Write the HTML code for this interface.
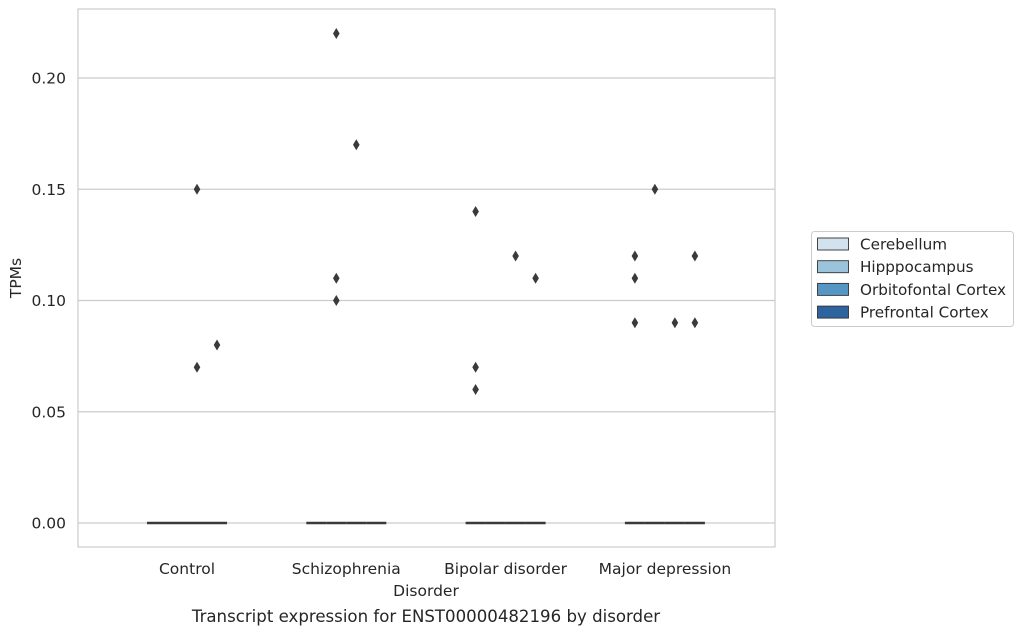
<!DOCTYPE html>
<html><head><meta charset="utf-8"><style>
body{margin:0;background:#fff;font-family:"Liberation Sans","DejaVu Sans",sans-serif}
</style></head><body>
<svg id="chart" width="1023" height="634" xmlns="http://www.w3.org/2000/svg" font-family="DejaVu Sans, Liberation Sans, sans-serif" fill="#262626">
<rect x="78" y="9" width="697" height="538" fill="#fff" stroke="#ccc" stroke-width="1.2"/>
<g id="grid"></g><g id="yticks"></g><g id="xticks"></g><g id="boxes"></g><g id="points"></g>
<text x="21" y="278" font-size="15.5" text-anchor="middle" transform="rotate(-90 21 278)">TPMs</text>
<text x="426" y="596" font-size="15.5" text-anchor="middle">Disorder</text>
<text x="426" y="622" font-size="16.6" text-anchor="middle">Transcript expression for ENST00000482196 by disorder</text>
<g>
<rect x="811.5" y="231.5" width="202" height="95" rx="3" fill="#fff" stroke="#ccc"/>
<g id="legend-items"></g>
</g>
</svg>
<script>
const categories=["Control","Schizophrenia","Bipolar disorder","Major depression"];
const hues=["Cerebellum","Hipppocampus","Orbitofontal Cortex","Prefrontal Cortex"];
const colors=["#d3e2ef","#9cc3dc","#5596c5","#2d64a0"];
const yTicks=[0,0.05,0.10,0.15,0.20];
const yTickLabels=["0.00","0.05","0.10","0.15","0.20"];
const outCat=[0,0,0,1,1,1,1,2,2,2,2,2,3,3,3,3,3,3,3];
const outHue=[2,2,3,1,1,1,2,0,0,0,2,3,0,0,0,1,2,3,3];
const outVal=[0.15,0.07,0.08,0.22,0.11,0.10,0.17,0.14,0.07,0.06,0.12,0.11,0.12,0.11,0.09,0.15,0.09,0.12,0.09];
const boxMedian=[0,0,0,0];
const NS="http://www.w3.org/2000/svg";
function y(v){return 523-v*(445/0.20);}
function xc(i){return 187+159.3*i;}
function xh(i,h){return xc(i)-40+20*(h+0.5);}
function mk(t,a,p){const e=document.createElementNS(NS,t);for(const k in a)e.setAttribute(k,a[k]);document.getElementById(p).appendChild(e);return e;}
yTicks.forEach((v,i)=>{
 const g=mk("line",{x1:78,x2:775,y1:y(v),y2:y(v),stroke:"#ccc","stroke-width":1.2},"grid");
 
 
 const t=mk("text",{x:66,y:y(v)+5.5,"font-size":15.5,"text-anchor":"end"},"yticks");t.textContent=yTickLabels[i];
 
 
});
categories.forEach((c,i)=>{
 const t=mk("text",{x:xc(i),y:574,"font-size":15.5,"text-anchor":"middle"},"xticks");t.textContent=c;
 
 
 hues.forEach((h,j)=>{
  const b=mk("line",{x1:xh(i,j)-10,x2:xh(i,j)+10,y1:y(boxMedian[i]),y2:y(boxMedian[i]),stroke:"#3a3a3a","stroke-width":2.5},"boxes");
  
  
 });
});
outVal.forEach((v,k)=>{
 const cx=xh(outCat[k],outHue[k]),cy=y(v);
 const p=mk("path",{d:`M${cx} ${cy-5.5}L${cx+3.3} ${cy}L${cx} ${cy+5.5}L${cx-3.3} ${cy}Z`,fill:"#3a3a3a"},"points");
 
 
});
hues.forEach((h,j)=>{
 const yy=244+22.7*j;
 const r=mk("rect",{x:817.5,y:yy-6,width:31,height:12,fill:colors[j],stroke:"#333","stroke-width":0.9},"legend-items");
 
 
 const t=mk("text",{x:860,y:yy+5.5,"font-size":15.2},"legend-items");t.textContent=h;
 
 
});
</script>
</body></html>
